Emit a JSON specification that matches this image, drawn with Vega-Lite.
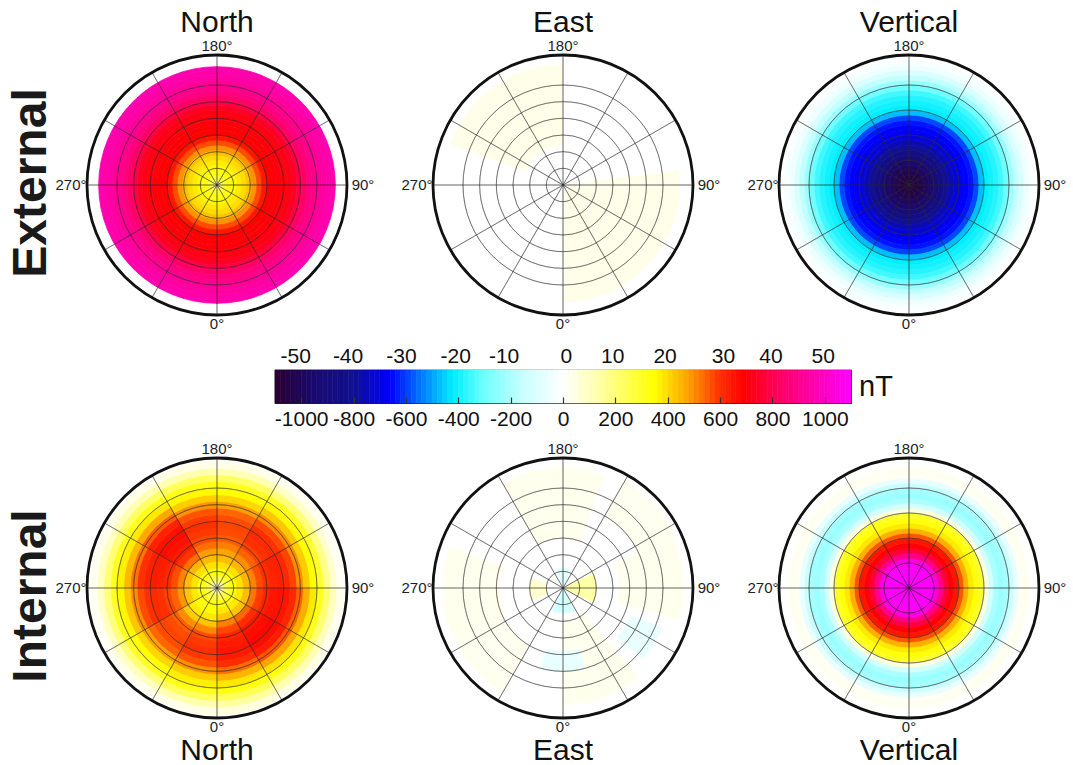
{
"$schema":"https://vega.github.io/schema/vega-lite/v6.json",
"background":"white",
"padding":{"left":7,"top":8,"right":10,"bottom":10},
"autosize":{"type":"pad"},
"bounds":"flush",
"spacing":45,
"center":true,
"resolve":{"scale":{"color":"independent","stroke":"independent"}},
"config":{"view":{"stroke":null},"font":"Liberation Sans","text":{"font":"Liberation Sans"},"axis":{"labelFont":"Liberation Sans","labelColor":"#111"}},
"datasets":{
"rowE":[{"t":"External"}],
"rowI":[{"t":"Internal"}],
"tN":[{"t":"North"}],"tE":[{"t":"East"}],"tV":[{"t":"Vertical"}],
"gridNE":[{"a0":0,"a1":360,"r0":5,"r1":5},{"a0":0,"a1":360,"r0":10,"r1":10},{"a0":0,"a1":360,"r0":15,"r1":15},{"a0":0,"a1":360,"r0":20,"r1":20},{"a0":0,"a1":360,"r0":25,"r1":25},{"a0":0,"a1":360,"r0":30,"r1":30},
{"a0":0,"a1":0,"r0":0,"r1":39},{"a0":30,"a1":30,"r0":0,"r1":39},{"a0":60,"a1":60,"r0":0,"r1":39},{"a0":90,"a1":90,"r0":0,"r1":39},{"a0":120,"a1":120,"r0":0,"r1":39},{"a0":150,"a1":150,"r0":0,"r1":39},
{"a0":180,"a1":180,"r0":0,"r1":39},{"a0":210,"a1":210,"r0":0,"r1":39},{"a0":240,"a1":240,"r0":0,"r1":39},{"a0":270,"a1":270,"r0":0,"r1":39},{"a0":300,"a1":300,"r0":0,"r1":39},{"a0":330,"a1":330,"r0":0,"r1":39}],
"gridV":[{"a0":0,"a1":360,"r0":7.5,"r1":7.5},{"a0":0,"a1":360,"r0":15,"r1":15},{"a0":0,"a1":360,"r0":22.5,"r1":22.5},{"a0":0,"a1":360,"r0":30,"r1":30},
{"a0":0,"a1":0,"r0":0,"r1":39},{"a0":30,"a1":30,"r0":0,"r1":39},{"a0":60,"a1":60,"r0":0,"r1":39},{"a0":90,"a1":90,"r0":0,"r1":39},{"a0":120,"a1":120,"r0":0,"r1":39},{"a0":150,"a1":150,"r0":0,"r1":39},
{"a0":180,"a1":180,"r0":0,"r1":39},{"a0":210,"a1":210,"r0":0,"r1":39},{"a0":240,"a1":240,"r0":0,"r1":39},{"a0":270,"a1":270,"r0":0,"r1":39},{"a0":300,"a1":300,"r0":0,"r1":39},{"a0":330,"a1":330,"r0":0,"r1":39}],
"outer":[{"a0":0,"a1":360,"r0":39,"r1":39}],
"labV":[{"a":0,"t":"0°"},{"a":180,"t":"180°"}],
"labH":[{"a":90,"t":"90°"},{"a":270,"t":"270°"}],
"EN":[
{"a0":0,"a1":360,"r0":0,"r1":1.5,"v":180},{"a0":0,"a1":360,"r0":1.5,"r1":3,"v":280},{"a0":0,"a1":360,"r0":3,"r1":4.5,"v":335},{"a0":0,"a1":360,"r0":4.5,"r1":6,"v":360},
{"a0":0,"a1":360,"r0":6,"r1":7.5,"v":378},{"a0":0,"a1":360,"r0":7.5,"r1":9,"v":398},{"a0":0,"a1":360,"r0":9,"r1":10.5,"v":435},{"a0":0,"a1":360,"r0":10.5,"r1":12,"v":495},
{"a0":0,"a1":360,"r0":12,"r1":13.5,"v":570},{"a0":0,"a1":360,"r0":13.5,"r1":15,"v":645},{"a0":0,"a1":360,"r0":15,"r1":16.5,"v":688},{"a0":0,"a1":360,"r0":16.5,"r1":18,"v":700},
{"a0":0,"a1":360,"r0":18,"r1":19.5,"v":705},{"a0":0,"a1":360,"r0":19.5,"r1":21,"v":710},{"a0":0,"a1":360,"r0":21,"r1":22.5,"v":718},{"a0":0,"a1":360,"r0":22.5,"r1":24,"v":742},
{"a0":0,"a1":360,"r0":24,"r1":25.5,"v":790},{"a0":0,"a1":360,"r0":25.5,"r1":27,"v":838},{"a0":0,"a1":360,"r0":27,"r1":28.5,"v":875},{"a0":0,"a1":360,"r0":28.5,"r1":30,"v":900},
{"a0":0,"a1":360,"r0":30,"r1":31.5,"v":920},{"a0":0,"a1":360,"r0":31.5,"r1":33,"v":938},{"a0":0,"a1":360,"r0":33,"r1":34.5,"v":952},{"a0":0,"a1":360,"r0":34.5,"r1":35.5,"v":962}],
"EV":[
{"a0":0,"a1":360,"r0":0,"r1":1.5,"v":-1060},{"a0":0,"a1":360,"r0":1.5,"r1":3,"v":-1050},{"a0":0,"a1":360,"r0":3,"r1":4.5,"v":-1030},{"a0":0,"a1":360,"r0":4.5,"r1":6,"v":-1000},
{"a0":0,"a1":360,"r0":6,"r1":7.5,"v":-960},{"a0":0,"a1":360,"r0":7.5,"r1":9,"v":-910},{"a0":0,"a1":360,"r0":9,"r1":10.5,"v":-860},{"a0":0,"a1":360,"r0":10.5,"r1":12,"v":-810},
{"a0":0,"a1":360,"r0":12,"r1":13.5,"v":-760},{"a0":0,"a1":360,"r0":13.5,"r1":15,"v":-710},{"a0":0,"a1":360,"r0":15,"r1":16.5,"v":-680},{"a0":0,"a1":360,"r0":16.5,"r1":18,"v":-660},
{"a0":0,"a1":360,"r0":18,"r1":19.5,"v":-640},{"a0":0,"a1":360,"r0":19.5,"r1":21,"v":-590},{"a0":0,"a1":360,"r0":21,"r1":22.5,"v":-470},{"a0":0,"a1":360,"r0":22.5,"r1":24,"v":-420},
{"a0":0,"a1":360,"r0":24,"r1":25.5,"v":-400},{"a0":0,"a1":360,"r0":25.5,"r1":27,"v":-380},{"a0":0,"a1":360,"r0":27,"r1":28.5,"v":-350},{"a0":0,"a1":360,"r0":28.5,"r1":30,"v":-300},
{"a0":0,"a1":360,"r0":30,"r1":31.5,"v":-230},{"a0":0,"a1":360,"r0":31.5,"r1":33,"v":-160},{"a0":0,"a1":360,"r0":33,"r1":34.5,"v":-100},{"a0":0,"a1":360,"r0":34.5,"r1":36,"v":-50},
{"a0":0,"a1":360,"r0":36,"r1":37.5,"v":-20}],
"IV":[
{"a0":0,"a1":360,"r0":0,"r1":6,"v":1100},{"a0":0,"a1":360,"r0":6,"r1":7.5,"v":1090},{"a0":0,"a1":360,"r0":7.5,"r1":9,"v":1050},{"a0":0,"a1":360,"r0":9,"r1":10.5,"v":900},
{"a0":0,"a1":360,"r0":10.5,"r1":12,"v":780},{"a0":0,"a1":360,"r0":12,"r1":13.5,"v":700},{"a0":0,"a1":360,"r0":13.5,"r1":15,"v":650},{"a0":0,"a1":360,"r0":15,"r1":16.5,"v":560},
{"a0":0,"a1":360,"r0":16.5,"r1":18,"v":460},{"a0":0,"a1":360,"r0":18,"r1":19.5,"v":380},{"a0":0,"a1":360,"r0":19.5,"r1":21,"v":340},{"a0":0,"a1":360,"r0":21,"r1":22.5,"v":300},
{"a0":0,"a1":360,"r0":22.5,"r1":24,"v":60},{"a0":0,"a1":360,"r0":24,"r1":25.5,"v":-120},{"a0":0,"a1":360,"r0":25.5,"r1":27,"v":-200},{"a0":0,"a1":360,"r0":27,"r1":28.5,"v":-230},
{"a0":0,"a1":360,"r0":28.5,"r1":30,"v":-210},{"a0":0,"a1":360,"r0":30,"r1":31.5,"v":-150},{"a0":0,"a1":360,"r0":31.5,"r1":33,"v":-60},{"a0":0,"a1":360,"r0":33,"r1":34.5,"v":20},
{"a0":0,"a1":360,"r0":34.5,"r1":36,"v":25},{"a0":0,"a1":360,"r0":36,"r1":37.5,"v":5}],
"EE":[{"a0":180,"a1":250,"r0":12,"r1":36,"v":1.8},{"a0":0,"a1":97,"r0":2,"r1":35,"v":1.8}],
"IE":[
{"a0":160,"a1":210,"r0":15,"r1":36,"v":1.5},{"a0":115,"a1":150,"r0":25,"r1":37,"v":1.3},{"a0":75,"a1":115,"r0":17,"r1":36,"v":1.5},{"a0":250,"a1":295,"r0":19,"r1":36,"v":1.5},
{"a0":295,"a1":330,"r0":20,"r1":36,"v":1.2},{"a0":0,"a1":40,"r0":10,"r1":35,"v":1.5},{"a0":345,"a1":360,"r0":19,"r1":25,"v":-3},{"a0":0,"a1":15,"r0":19,"r1":25,"v":-3},
{"a0":48,"a1":68,"r0":22,"r1":32,"v":-3},{"a0":65,"a1":115,"r0":1,"r1":10,"v":7},{"a0":255,"a1":290,"r0":5,"r1":10,"v":4},{"a0":160,"a1":200,"r0":1,"r1":6,"v":-4},
{"a0":335,"a1":360,"r0":0,"r1":7.5,"v":-6},{"a0":0,"a1":25,"r0":0,"r1":7.5,"v":-6}],
"IN":[
{"a0":0,"a1":360,"r0":0,"r1":2,"v":120},{"a0":0,"a1":360,"r0":2,"r1":4,"v":260},{"a0":0,"a1":360,"r0":4,"r1":6,"v":340},
{"a0":0,"a1":30,"r0":6,"r1":8,"v":380},{"a0":0,"a1":30,"r0":8,"r1":10,"v":430},{"a0":0,"a1":30,"r0":10,"r1":12,"v":515},{"a0":0,"a1":30,"r0":12,"r1":14,"v":577},{"a0":0,"a1":30,"r0":14,"r1":16,"v":618},{"a0":0,"a1":30,"r0":16,"r1":18,"v":639},{"a0":0,"a1":30,"r0":18,"r1":20,"v":650},{"a0":0,"a1":30,"r0":20,"r1":22,"v":639},{"a0":0,"a1":30,"r0":22,"r1":24,"v":608},{"a0":0,"a1":30,"r0":24,"r1":26,"v":536},{"a0":0,"a1":30,"r0":26,"r1":28,"v":453},{"a0":0,"a1":30,"r0":28,"r1":30,"v":381},{"a0":0,"a1":30,"r0":30,"r1":32,"v":330},{"a0":0,"a1":30,"r0":32,"r1":34,"v":240},{"a0":0,"a1":30,"r0":34,"r1":36,"v":150},{"a0":0,"a1":30,"r0":36,"r1":38,"v":60},
{"a0":30,"a1":60,"r0":6,"r1":8,"v":380},{"a0":30,"a1":60,"r0":8,"r1":10,"v":430},{"a0":30,"a1":60,"r0":10,"r1":12,"v":540},{"a0":30,"a1":60,"r0":12,"r1":14,"v":605},{"a0":30,"a1":60,"r0":14,"r1":16,"v":648},{"a0":30,"a1":60,"r0":16,"r1":18,"v":670},{"a0":30,"a1":60,"r0":18,"r1":20,"v":680},{"a0":30,"a1":60,"r0":20,"r1":22,"v":670},{"a0":30,"a1":60,"r0":22,"r1":24,"v":637},{"a0":30,"a1":60,"r0":24,"r1":26,"v":562},{"a0":30,"a1":60,"r0":26,"r1":28,"v":475},{"a0":30,"a1":60,"r0":28,"r1":30,"v":390},{"a0":30,"a1":60,"r0":30,"r1":32,"v":330},{"a0":30,"a1":60,"r0":32,"r1":34,"v":230},{"a0":30,"a1":60,"r0":34,"r1":36,"v":130},{"a0":30,"a1":60,"r0":36,"r1":38,"v":40},
{"a0":60,"a1":90,"r0":6,"r1":8,"v":380},{"a0":60,"a1":90,"r0":8,"r1":10,"v":440},{"a0":60,"a1":90,"r0":10,"r1":12,"v":524},{"a0":60,"a1":90,"r0":12,"r1":14,"v":587},{"a0":60,"a1":90,"r0":14,"r1":16,"v":629},{"a0":60,"a1":90,"r0":16,"r1":18,"v":650},{"a0":60,"a1":90,"r0":18,"r1":20,"v":660},{"a0":60,"a1":90,"r0":20,"r1":22,"v":650},{"a0":60,"a1":90,"r0":22,"r1":24,"v":618},{"a0":60,"a1":90,"r0":24,"r1":26,"v":545},{"a0":60,"a1":90,"r0":26,"r1":28,"v":461},{"a0":60,"a1":90,"r0":28,"r1":30,"v":380},{"a0":60,"a1":90,"r0":30,"r1":32,"v":320},{"a0":60,"a1":90,"r0":32,"r1":34,"v":210},{"a0":60,"a1":90,"r0":34,"r1":36,"v":110},{"a0":60,"a1":90,"r0":36,"r1":38,"v":30},
{"a0":90,"a1":120,"r0":6,"r1":8,"v":390},{"a0":90,"a1":120,"r0":8,"r1":10,"v":450},{"a0":90,"a1":120,"r0":10,"r1":12,"v":510},{"a0":90,"a1":120,"r0":12,"r1":14,"v":570},{"a0":90,"a1":120,"r0":14,"r1":16,"v":605},{"a0":90,"a1":120,"r0":16,"r1":18,"v":625},{"a0":90,"a1":120,"r0":18,"r1":20,"v":630},{"a0":90,"a1":120,"r0":20,"r1":22,"v":615},{"a0":90,"a1":120,"r0":22,"r1":24,"v":580},{"a0":90,"a1":120,"r0":24,"r1":26,"v":500},{"a0":90,"a1":120,"r0":26,"r1":28,"v":420},{"a0":90,"a1":120,"r0":28,"r1":30,"v":350},{"a0":90,"a1":120,"r0":30,"r1":32,"v":290},{"a0":90,"a1":120,"r0":32,"r1":34,"v":180},{"a0":90,"a1":120,"r0":34,"r1":36,"v":80},{"a0":90,"a1":120,"r0":36,"r1":38,"v":20},
{"a0":120,"a1":150,"r0":6,"r1":8,"v":390},{"a0":120,"a1":150,"r0":8,"r1":10,"v":450},{"a0":120,"a1":150,"r0":10,"r1":12,"v":500},{"a0":120,"a1":150,"r0":12,"r1":14,"v":545},{"a0":120,"a1":150,"r0":14,"r1":16,"v":580},{"a0":120,"a1":150,"r0":16,"r1":18,"v":600},{"a0":120,"a1":150,"r0":18,"r1":20,"v":610},{"a0":120,"a1":150,"r0":20,"r1":22,"v":600},{"a0":120,"a1":150,"r0":22,"r1":24,"v":571},{"a0":120,"a1":150,"r0":24,"r1":26,"v":503},{"a0":120,"a1":150,"r0":26,"r1":28,"v":426},{"a0":120,"a1":150,"r0":28,"r1":30,"v":360},{"a0":120,"a1":150,"r0":30,"r1":32,"v":310},{"a0":120,"a1":150,"r0":32,"r1":34,"v":200},{"a0":120,"a1":150,"r0":34,"r1":36,"v":100},{"a0":120,"a1":150,"r0":36,"r1":38,"v":30},
{"a0":150,"a1":180,"r0":6,"r1":8,"v":390},{"a0":150,"a1":180,"r0":8,"r1":10,"v":440},{"a0":150,"a1":180,"r0":10,"r1":12,"v":470},{"a0":150,"a1":180,"r0":12,"r1":14,"v":515},{"a0":150,"a1":180,"r0":14,"r1":16,"v":552},{"a0":150,"a1":180,"r0":16,"r1":18,"v":570},{"a0":150,"a1":180,"r0":18,"r1":20,"v":580},{"a0":150,"a1":180,"r0":20,"r1":22,"v":570},{"a0":150,"a1":180,"r0":22,"r1":24,"v":543},{"a0":150,"a1":180,"r0":24,"r1":26,"v":478},{"a0":150,"a1":180,"r0":26,"r1":28,"v":405},{"a0":150,"a1":180,"r0":28,"r1":30,"v":350},{"a0":150,"a1":180,"r0":30,"r1":32,"v":310},{"a0":150,"a1":180,"r0":32,"r1":34,"v":220},{"a0":150,"a1":180,"r0":34,"r1":36,"v":120},{"a0":150,"a1":180,"r0":36,"r1":38,"v":40},
{"a0":180,"a1":210,"r0":6,"r1":8,"v":390},{"a0":180,"a1":210,"r0":8,"r1":10,"v":440},{"a0":180,"a1":210,"r0":10,"r1":12,"v":480},{"a0":180,"a1":210,"r0":12,"r1":14,"v":533},{"a0":180,"a1":210,"r0":14,"r1":16,"v":571},{"a0":180,"a1":210,"r0":16,"r1":18,"v":590},{"a0":180,"a1":210,"r0":18,"r1":20,"v":600},{"a0":180,"a1":210,"r0":20,"r1":22,"v":590},{"a0":180,"a1":210,"r0":22,"r1":24,"v":562},{"a0":180,"a1":210,"r0":24,"r1":26,"v":495},{"a0":180,"a1":210,"r0":26,"r1":28,"v":419},{"a0":180,"a1":210,"r0":28,"r1":30,"v":360},{"a0":180,"a1":210,"r0":30,"r1":32,"v":320},{"a0":180,"a1":210,"r0":32,"r1":34,"v":230},{"a0":180,"a1":210,"r0":34,"r1":36,"v":130},{"a0":180,"a1":210,"r0":36,"r1":38,"v":40},
{"a0":210,"a1":240,"r0":6,"r1":8,"v":390},{"a0":210,"a1":240,"r0":8,"r1":10,"v":450},{"a0":210,"a1":240,"r0":10,"r1":12,"v":530},{"a0":210,"a1":240,"r0":12,"r1":14,"v":595},{"a0":210,"a1":240,"r0":14,"r1":16,"v":638},{"a0":210,"a1":240,"r0":16,"r1":18,"v":659},{"a0":210,"a1":240,"r0":18,"r1":20,"v":670},{"a0":210,"a1":240,"r0":20,"r1":22,"v":659},{"a0":210,"a1":240,"r0":22,"r1":24,"v":627},{"a0":210,"a1":240,"r0":24,"r1":26,"v":553},{"a0":210,"a1":240,"r0":26,"r1":28,"v":468},{"a0":210,"a1":240,"r0":28,"r1":30,"v":380},{"a0":210,"a1":240,"r0":30,"r1":32,"v":320},{"a0":210,"a1":240,"r0":32,"r1":34,"v":220},{"a0":210,"a1":240,"r0":34,"r1":36,"v":120},{"a0":210,"a1":240,"r0":36,"r1":38,"v":40},
{"a0":240,"a1":270,"r0":6,"r1":8,"v":390},{"a0":240,"a1":270,"r0":8,"r1":10,"v":440},{"a0":240,"a1":270,"r0":10,"r1":12,"v":510},{"a0":240,"a1":270,"r0":12,"r1":14,"v":569},{"a0":240,"a1":270,"r0":14,"r1":16,"v":610},{"a0":240,"a1":270,"r0":16,"r1":18,"v":630},{"a0":240,"a1":270,"r0":18,"r1":20,"v":640},{"a0":240,"a1":270,"r0":20,"r1":22,"v":630},{"a0":240,"a1":270,"r0":22,"r1":24,"v":599},{"a0":240,"a1":270,"r0":24,"r1":26,"v":528},{"a0":240,"a1":270,"r0":26,"r1":28,"v":447},{"a0":240,"a1":270,"r0":28,"r1":30,"v":370},{"a0":240,"a1":270,"r0":30,"r1":32,"v":310},{"a0":240,"a1":270,"r0":32,"r1":34,"v":200},{"a0":240,"a1":270,"r0":34,"r1":36,"v":100},{"a0":240,"a1":270,"r0":36,"r1":38,"v":30},
{"a0":270,"a1":300,"r0":6,"r1":8,"v":380},{"a0":270,"a1":300,"r0":8,"r1":10,"v":430},{"a0":270,"a1":300,"r0":10,"r1":12,"v":490},{"a0":270,"a1":300,"r0":12,"r1":14,"v":545},{"a0":270,"a1":300,"r0":14,"r1":16,"v":580},{"a0":270,"a1":300,"r0":16,"r1":18,"v":600},{"a0":270,"a1":300,"r0":18,"r1":20,"v":610},{"a0":270,"a1":300,"r0":20,"r1":22,"v":600},{"a0":270,"a1":300,"r0":22,"r1":24,"v":571},{"a0":270,"a1":300,"r0":24,"r1":26,"v":503},{"a0":270,"a1":300,"r0":26,"r1":28,"v":426},{"a0":270,"a1":300,"r0":28,"r1":30,"v":360},{"a0":270,"a1":300,"r0":30,"r1":32,"v":300},{"a0":270,"a1":300,"r0":32,"r1":34,"v":190},{"a0":270,"a1":300,"r0":34,"r1":36,"v":90},{"a0":270,"a1":300,"r0":36,"r1":38,"v":20},
{"a0":300,"a1":330,"r0":6,"r1":8,"v":350},{"a0":300,"a1":330,"r0":8,"r1":10,"v":380},{"a0":300,"a1":330,"r0":10,"r1":12,"v":420},{"a0":300,"a1":330,"r0":12,"r1":14,"v":500},{"a0":300,"a1":330,"r0":14,"r1":16,"v":552},{"a0":300,"a1":330,"r0":16,"r1":18,"v":570},{"a0":300,"a1":330,"r0":18,"r1":20,"v":580},{"a0":300,"a1":330,"r0":20,"r1":22,"v":570},{"a0":300,"a1":330,"r0":22,"r1":24,"v":543},{"a0":300,"a1":330,"r0":24,"r1":26,"v":478},{"a0":300,"a1":330,"r0":26,"r1":28,"v":405},{"a0":300,"a1":330,"r0":28,"r1":30,"v":350},{"a0":300,"a1":330,"r0":30,"r1":32,"v":300},{"a0":300,"a1":330,"r0":32,"r1":34,"v":200},{"a0":300,"a1":330,"r0":34,"r1":36,"v":100},{"a0":300,"a1":330,"r0":36,"r1":38,"v":30},
{"a0":330,"a1":360,"r0":6,"r1":8,"v":350},{"a0":330,"a1":360,"r0":8,"r1":10,"v":380},{"a0":330,"a1":360,"r0":10,"r1":12,"v":430},{"a0":330,"a1":360,"r0":12,"r1":14,"v":510},{"a0":330,"a1":360,"r0":14,"r1":16,"v":571},{"a0":330,"a1":360,"r0":16,"r1":18,"v":590},{"a0":330,"a1":360,"r0":18,"r1":20,"v":600},{"a0":330,"a1":360,"r0":20,"r1":22,"v":590},{"a0":330,"a1":360,"r0":22,"r1":24,"v":562},{"a0":330,"a1":360,"r0":24,"r1":26,"v":495},{"a0":330,"a1":360,"r0":26,"r1":28,"v":419},{"a0":330,"a1":360,"r0":28,"r1":30,"v":370},{"a0":330,"a1":360,"r0":30,"r1":32,"v":320},{"a0":330,"a1":360,"r0":32,"r1":34,"v":230},{"a0":330,"a1":360,"r0":34,"r1":36,"v":130},{"a0":330,"a1":360,"r0":36,"r1":38,"v":40}],
"cbar":[
{"a":-1100,"b":-1080,"m":-1090},{"a":-1080,"b":-1060,"m":-1070},{"a":-1060,"b":-1040,"m":-1050},{"a":-1040,"b":-1020,"m":-1030},{"a":-1020,"b":-1000,"m":-1010},
{"a":-1000,"b":-980,"m":-990},{"a":-980,"b":-960,"m":-970},{"a":-960,"b":-940,"m":-950},{"a":-940,"b":-920,"m":-930},{"a":-920,"b":-900,"m":-910},
{"a":-900,"b":-880,"m":-890},{"a":-880,"b":-860,"m":-870},{"a":-860,"b":-840,"m":-850},{"a":-840,"b":-820,"m":-830},{"a":-820,"b":-800,"m":-810},
{"a":-800,"b":-780,"m":-790},{"a":-780,"b":-760,"m":-770},{"a":-760,"b":-740,"m":-750},{"a":-740,"b":-720,"m":-730},{"a":-720,"b":-700,"m":-710},
{"a":-700,"b":-680,"m":-690},{"a":-680,"b":-660,"m":-670},{"a":-660,"b":-640,"m":-650},{"a":-640,"b":-620,"m":-630},{"a":-620,"b":-600,"m":-610},
{"a":-600,"b":-580,"m":-590},{"a":-580,"b":-560,"m":-570},{"a":-560,"b":-540,"m":-550},{"a":-540,"b":-520,"m":-530},{"a":-520,"b":-500,"m":-510},
{"a":-500,"b":-480,"m":-490},{"a":-480,"b":-460,"m":-470},{"a":-460,"b":-440,"m":-450},{"a":-440,"b":-420,"m":-430},{"a":-420,"b":-400,"m":-410},
{"a":-400,"b":-380,"m":-390},{"a":-380,"b":-360,"m":-370},{"a":-360,"b":-340,"m":-350},{"a":-340,"b":-320,"m":-330},{"a":-320,"b":-300,"m":-310},
{"a":-300,"b":-280,"m":-290},{"a":-280,"b":-260,"m":-270},{"a":-260,"b":-240,"m":-250},{"a":-240,"b":-220,"m":-230},{"a":-220,"b":-200,"m":-210},
{"a":-200,"b":-180,"m":-190},{"a":-180,"b":-160,"m":-170},{"a":-160,"b":-140,"m":-150},{"a":-140,"b":-120,"m":-130},{"a":-120,"b":-100,"m":-110},
{"a":-100,"b":-80,"m":-90},{"a":-80,"b":-60,"m":-70},{"a":-60,"b":-40,"m":-50},{"a":-40,"b":-20,"m":-30},{"a":-20,"b":0,"m":-10},
{"a":0,"b":20,"m":10},{"a":20,"b":40,"m":30},{"a":40,"b":60,"m":50},{"a":60,"b":80,"m":70},{"a":80,"b":100,"m":90},
{"a":100,"b":120,"m":110},{"a":120,"b":140,"m":130},{"a":140,"b":160,"m":150},{"a":160,"b":180,"m":170},{"a":180,"b":200,"m":190},
{"a":200,"b":220,"m":210},{"a":220,"b":240,"m":230},{"a":240,"b":260,"m":250},{"a":260,"b":280,"m":270},{"a":280,"b":300,"m":290},
{"a":300,"b":320,"m":310},{"a":320,"b":340,"m":330},{"a":340,"b":360,"m":350},{"a":360,"b":380,"m":370},{"a":380,"b":400,"m":390},
{"a":400,"b":420,"m":410},{"a":420,"b":440,"m":430},{"a":440,"b":460,"m":450},{"a":460,"b":480,"m":470},{"a":480,"b":500,"m":490},
{"a":500,"b":520,"m":510},{"a":520,"b":540,"m":530},{"a":540,"b":560,"m":550},{"a":560,"b":580,"m":570},{"a":580,"b":600,"m":590},
{"a":600,"b":620,"m":610},{"a":620,"b":640,"m":630},{"a":640,"b":660,"m":650},{"a":660,"b":680,"m":670},{"a":680,"b":700,"m":690},
{"a":700,"b":720,"m":710},{"a":720,"b":740,"m":730},{"a":740,"b":760,"m":750},{"a":760,"b":780,"m":770},{"a":780,"b":800,"m":790},
{"a":800,"b":820,"m":810},{"a":820,"b":840,"m":830},{"a":840,"b":860,"m":850},{"a":860,"b":880,"m":870},{"a":880,"b":900,"m":890},
{"a":900,"b":920,"m":910},{"a":920,"b":940,"m":930},{"a":940,"b":960,"m":950},{"a":960,"b":980,"m":970},{"a":980,"b":1000,"m":990},
{"a":1000,"b":1020,"m":1010},{"a":1020,"b":1040,"m":1030},{"a":1040,"b":1060,"m":1050},{"a":1060,"b":1080,"m":1070},{"a":1080,"b":1100,"m":1090}],
"toplab":[{"p":-1021,"t":"-50"},{"p":-821,"t":"-40"},{"p":-617,"t":"-30"},{"p":-410,"t":"-20"},{"p":-225,"t":"-10"},{"p":13,"t":"0"},{"p":190,"t":"10"},{"p":390,"t":"20"},{"p":613,"t":"30"},{"p":794,"t":"40"},{"p":994,"t":"50"}],
"unit":[{"u":"nT"}]
},
"vconcat":[
{"width":992,"height":280,
 "resolve":{"scale":{"color":"independent","stroke":"independent"}},
 "layer":[
  {"data":{"name":"EN"},"mark":{"type":"arc","strokeWidth":0.8,"x":150,"y":140},"encoding":{"theta":{"field":"a0","type":"quantitative","scale":{"type":"linear","domain":[0,360],"range":[3.14159265,-3.14159265],"zero":false,"nice":false}},"theta2":{"field":"a1"},"radius":{"field":"r1","type":"quantitative","scale":{"type":"linear","domain":[0,39],"range":[0,130],"zero":true,"nice":false}},"radius2":{"field":"r0"},
   "color":{"field":"v","type":"quantitative","legend":null,"scale":{"type":"linear","nice":false,"zero":false,"clamp":true,"interpolate":"rgb","domain":[-1100,-950,-800,-660,-550,-420,-300,-150,0,130,350,480,600,690,850,1100],"range":["#2b0030","#1a0a70","#101090","#0000ff","#0070ff","#00eeff","#70ffff","#c8ffff","#ffffff","#ffffb0","#ffff00","#ffa000","#ff3000","#ff0000","#ff0070","#ff00ff"]}},
   "stroke":{"field":"v","type":"quantitative","legend":null,"scale":{"type":"linear","nice":false,"zero":false,"clamp":true,"interpolate":"rgb","domain":[-1100,-950,-800,-660,-550,-420,-300,-150,0,130,350,480,600,690,850,1100],"range":["#2b0030","#1a0a70","#101090","#0000ff","#0070ff","#00eeff","#70ffff","#c8ffff","#ffffff","#ffffb0","#ffff00","#ffa000","#ff3000","#ff0000","#ff0070","#ff00ff"]}}}},
  {"data":{"name":"EE"},"mark":{"type":"arc","strokeWidth":0.8,"x":496,"y":140},"encoding":{"theta":{"field":"a0","type":"quantitative","scale":{"type":"linear","domain":[0,360],"range":[3.14159265,-3.14159265],"zero":false,"nice":false}},"theta2":{"field":"a1"},"radius":{"field":"r1","type":"quantitative","scale":{"type":"linear","domain":[0,39],"range":[0,130],"zero":true,"nice":false}},"radius2":{"field":"r0"},
   "color":{"field":"v","type":"quantitative","legend":null,"scale":{"type":"linear","nice":false,"zero":false,"clamp":true,"interpolate":"rgb","domain":[-55,-47.5,-40,-33,-27.5,-21,-15,-7.5,0,6.5,17.5,24,30,34.5,42.5,55],"range":["#2b0030","#1a0a70","#101090","#0000ff","#0070ff","#00eeff","#70ffff","#c8ffff","#ffffff","#ffffb0","#ffff00","#ffa000","#ff3000","#ff0000","#ff0070","#ff00ff"]}},
   "stroke":{"field":"v","type":"quantitative","legend":null,"scale":{"type":"linear","nice":false,"zero":false,"clamp":true,"interpolate":"rgb","domain":[-55,-47.5,-40,-33,-27.5,-21,-15,-7.5,0,6.5,17.5,24,30,34.5,42.5,55],"range":["#2b0030","#1a0a70","#101090","#0000ff","#0070ff","#00eeff","#70ffff","#c8ffff","#ffffff","#ffffb0","#ffff00","#ffa000","#ff3000","#ff0000","#ff0070","#ff00ff"]}}}},
  {"data":{"name":"EV"},"mark":{"type":"arc","strokeWidth":0.8,"x":842,"y":140},"encoding":{"theta":{"field":"a0","type":"quantitative","scale":{"type":"linear","domain":[0,360],"range":[3.14159265,-3.14159265],"zero":false,"nice":false}},"theta2":{"field":"a1"},"radius":{"field":"r1","type":"quantitative","scale":{"type":"linear","domain":[0,39],"range":[0,130],"zero":true,"nice":false}},"radius2":{"field":"r0"},
   "color":{"field":"v","type":"quantitative","legend":null,"scale":{"type":"linear","nice":false,"zero":false,"clamp":true,"interpolate":"rgb","domain":[-1100,-950,-800,-660,-550,-420,-300,-150,0,130,350,480,600,690,850,1100],"range":["#2b0030","#1a0a70","#101090","#0000ff","#0070ff","#00eeff","#70ffff","#c8ffff","#ffffff","#ffffb0","#ffff00","#ffa000","#ff3000","#ff0000","#ff0070","#ff00ff"]}},
   "stroke":{"field":"v","type":"quantitative","legend":null,"scale":{"type":"linear","nice":false,"zero":false,"clamp":true,"interpolate":"rgb","domain":[-1100,-950,-800,-660,-550,-420,-300,-150,0,130,350,480,600,690,850,1100],"range":["#2b0030","#1a0a70","#101090","#0000ff","#0070ff","#00eeff","#70ffff","#c8ffff","#ffffff","#ffffb0","#ffff00","#ffa000","#ff3000","#ff0000","#ff0070","#ff00ff"]}}}},
  {"data":{"name":"gridNE"},"mark":{"type":"arc","x":150,"y":140,"filled":false,"stroke":"#2a2a2a","strokeOpacity":0.45,"strokeWidth":0.9},"encoding":{"theta":{"field":"a0","type":"quantitative","scale":{"type":"linear","domain":[0,360],"range":[3.14159265,-3.14159265],"zero":false,"nice":false}},"theta2":{"field":"a1"},"radius":{"field":"r1","type":"quantitative","scale":{"type":"linear","domain":[0,39],"range":[0,130],"zero":true,"nice":false}},"radius2":{"field":"r0"}}},
  {"data":{"name":"gridNE"},"mark":{"type":"arc","x":496,"y":140,"filled":false,"stroke":"#2a2a2a","strokeOpacity":0.45,"strokeWidth":0.9},"encoding":{"theta":{"field":"a0","type":"quantitative","scale":{"type":"linear","domain":[0,360],"range":[3.14159265,-3.14159265],"zero":false,"nice":false}},"theta2":{"field":"a1"},"radius":{"field":"r1","type":"quantitative","scale":{"type":"linear","domain":[0,39],"range":[0,130],"zero":true,"nice":false}},"radius2":{"field":"r0"}}},
  {"data":{"name":"gridV"},"mark":{"type":"arc","x":842,"y":140,"filled":false,"stroke":"#2a2a2a","strokeOpacity":0.45,"strokeWidth":0.9},"encoding":{"theta":{"field":"a0","type":"quantitative","scale":{"type":"linear","domain":[0,360],"range":[3.14159265,-3.14159265],"zero":false,"nice":false}},"theta2":{"field":"a1"},"radius":{"field":"r1","type":"quantitative","scale":{"type":"linear","domain":[0,39],"range":[0,130],"zero":true,"nice":false}},"radius2":{"field":"r0"}}},
  {"data":{"name":"outer"},"mark":{"type":"arc","x":150,"y":140,"filled":false,"stroke":"#111","strokeWidth":2.8},"encoding":{"theta":{"field":"a0","type":"quantitative","scale":{"type":"linear","domain":[0,360],"range":[3.14159265,-3.14159265],"zero":false,"nice":false}},"theta2":{"field":"a1"},"radius":{"field":"r1","type":"quantitative","scale":{"type":"linear","domain":[0,39],"range":[0,130],"zero":true,"nice":false}},"radius2":{"field":"r0"}}},
  {"data":{"name":"outer"},"mark":{"type":"arc","x":496,"y":140,"filled":false,"stroke":"#111","strokeWidth":2.8},"encoding":{"theta":{"field":"a0","type":"quantitative","scale":{"type":"linear","domain":[0,360],"range":[3.14159265,-3.14159265],"zero":false,"nice":false}},"theta2":{"field":"a1"},"radius":{"field":"r1","type":"quantitative","scale":{"type":"linear","domain":[0,39],"range":[0,130],"zero":true,"nice":false}},"radius2":{"field":"r0"}}},
  {"data":{"name":"outer"},"mark":{"type":"arc","x":842,"y":140,"filled":false,"stroke":"#111","strokeWidth":2.8},"encoding":{"theta":{"field":"a0","type":"quantitative","scale":{"type":"linear","domain":[0,360],"range":[3.14159265,-3.14159265],"zero":false,"nice":false}},"theta2":{"field":"a1"},"radius":{"field":"r1","type":"quantitative","scale":{"type":"linear","domain":[0,39],"range":[0,130],"zero":true,"nice":false}},"radius2":{"field":"r0"}}},
  {"data":{"name":"labV"},"mark":{"type":"text","x":150,"y":140,"radius":139,"fontSize":15,"color":"#222"},"encoding":{"theta":{"field":"a","type":"quantitative","scale":{"type":"linear","domain":[0,360],"range":[3.14159265,-3.14159265],"zero":false,"nice":false}},"text":{"field":"t","type":"nominal"}}},
  {"data":{"name":"labH"},"mark":{"type":"text","x":150,"y":140,"radius":146,"fontSize":15,"color":"#222"},"encoding":{"theta":{"field":"a","type":"quantitative","scale":{"type":"linear","domain":[0,360],"range":[3.14159265,-3.14159265],"zero":false,"nice":false}},"text":{"field":"t","type":"nominal"}}},
  {"data":{"name":"labV"},"mark":{"type":"text","x":496,"y":140,"radius":139,"fontSize":15,"color":"#222"},"encoding":{"theta":{"field":"a","type":"quantitative","scale":{"type":"linear","domain":[0,360],"range":[3.14159265,-3.14159265],"zero":false,"nice":false}},"text":{"field":"t","type":"nominal"}}},
  {"data":{"name":"labH"},"mark":{"type":"text","x":496,"y":140,"radius":146,"fontSize":15,"color":"#222"},"encoding":{"theta":{"field":"a","type":"quantitative","scale":{"type":"linear","domain":[0,360],"range":[3.14159265,-3.14159265],"zero":false,"nice":false}},"text":{"field":"t","type":"nominal"}}},
  {"data":{"name":"labV"},"mark":{"type":"text","x":842,"y":140,"radius":139,"fontSize":15,"color":"#222"},"encoding":{"theta":{"field":"a","type":"quantitative","scale":{"type":"linear","domain":[0,360],"range":[3.14159265,-3.14159265],"zero":false,"nice":false}},"text":{"field":"t","type":"nominal"}}},
  {"data":{"name":"labH"},"mark":{"type":"text","x":842,"y":140,"radius":146,"fontSize":15,"color":"#222"},"encoding":{"theta":{"field":"a","type":"quantitative","scale":{"type":"linear","domain":[0,360],"range":[3.14159265,-3.14159265],"zero":false,"nice":false}},"text":{"field":"t","type":"nominal"}}},
  {"data":{"name":"tN"},"mark":{"type":"text","x":150,"y":-13,"fontSize":30,"baseline":"alphabetic","align":"center","color":"#111"},"encoding":{"text":{"field":"t","type":"nominal"}}},
  {"data":{"name":"tE"},"mark":{"type":"text","x":496,"y":-13,"fontSize":30,"baseline":"alphabetic","align":"center","color":"#111"},"encoding":{"text":{"field":"t","type":"nominal"}}},
  {"data":{"name":"tV"},"mark":{"type":"text","x":842,"y":-13,"fontSize":30,"baseline":"alphabetic","align":"center","color":"#111"},"encoding":{"text":{"field":"t","type":"nominal"}}},
  {"data":{"name":"rowE"},"mark":{"type":"text","x":-21,"y":138,"angle":270,"align":"center","baseline":"alphabetic","fontSize":48,"fontWeight":"bold","color":"#1a1a1a"},"encoding":{"text":{"field":"t","type":"nominal"}}}
 ]},
{"width":576,"height":33,"view":{"stroke":"#222","strokeWidth":1.2},
 "layer":[
  {"data":{"name":"cbar"},"mark":{"type":"rect","strokeWidth":0.6},
   "encoding":{"x":{"field":"a","type":"quantitative","scale":{"domain":[-1100,1100],"nice":false,"zero":false},"axis":{"orient":"bottom","zindex":2,"values":[-1000,-800,-600,-400,-200,0,200,400,600,800,1000],"labelExpr":"'' + datum.value","title":null,"domain":false,"grid":false,"ticks":true,"tickSize":-6,"tickWidth":1.2,"tickColor":"#333","labelFontSize":21,"labelPadding":11,"labelColor":"#111"}},
    "x2":{"field":"b"},
    "color":{"field":"m","type":"quantitative","legend":null,"scale":{"type":"linear","nice":false,"zero":false,"clamp":true,"interpolate":"rgb","domain":[-1100,-950,-800,-660,-550,-420,-300,-150,0,130,350,480,600,690,850,1100],"range":["#2b0030","#1a0a70","#101090","#0000ff","#0070ff","#00eeff","#70ffff","#c8ffff","#ffffff","#ffffb0","#ffff00","#ffa000","#ff3000","#ff0000","#ff0070","#ff00ff"]}},
    "stroke":{"field":"m","type":"quantitative","legend":null,"scale":{"type":"linear","nice":false,"zero":false,"clamp":true,"interpolate":"rgb","domain":[-1100,-950,-800,-660,-550,-420,-300,-150,0,130,350,480,600,690,850,1100],"range":["#2b0030","#1a0a70","#101090","#0000ff","#0070ff","#00eeff","#70ffff","#c8ffff","#ffffff","#ffffb0","#ffff00","#ffa000","#ff3000","#ff0000","#ff0070","#ff00ff"]}}}},
  {"data":{"name":"toplab"},"mark":{"type":"text","fontSize":21,"color":"#111","baseline":"alphabetic","dy":-23.5},
   "encoding":{"x":{"field":"p","type":"quantitative"},"text":{"field":"t","type":"nominal"}}},
  {"data":{"name":"unit"},"mark":{"type":"text","fontSize":29,"color":"#111","align":"left","baseline":"middle","x":584,"y":16.5},
   "encoding":{"text":{"field":"u","type":"nominal"}}}
 ]},
{"width":992,"height":280,
 "resolve":{"scale":{"color":"independent","stroke":"independent"}},
 "layer":[
  {"data":{"name":"IN"},"mark":{"type":"arc","strokeWidth":0.8,"x":150,"y":140},"encoding":{"theta":{"field":"a0","type":"quantitative","scale":{"type":"linear","domain":[0,360],"range":[3.14159265,-3.14159265],"zero":false,"nice":false}},"theta2":{"field":"a1"},"radius":{"field":"r1","type":"quantitative","scale":{"type":"linear","domain":[0,39],"range":[0,130],"zero":true,"nice":false}},"radius2":{"field":"r0"},
   "color":{"field":"v","type":"quantitative","legend":null,"scale":{"type":"linear","nice":false,"zero":false,"clamp":true,"interpolate":"rgb","domain":[-1100,-950,-800,-660,-550,-420,-300,-150,0,130,350,480,600,690,850,1100],"range":["#2b0030","#1a0a70","#101090","#0000ff","#0070ff","#00eeff","#70ffff","#c8ffff","#ffffff","#ffffb0","#ffff00","#ffa000","#ff3000","#ff0000","#ff0070","#ff00ff"]}},
   "stroke":{"field":"v","type":"quantitative","legend":null,"scale":{"type":"linear","nice":false,"zero":false,"clamp":true,"interpolate":"rgb","domain":[-1100,-950,-800,-660,-550,-420,-300,-150,0,130,350,480,600,690,850,1100],"range":["#2b0030","#1a0a70","#101090","#0000ff","#0070ff","#00eeff","#70ffff","#c8ffff","#ffffff","#ffffb0","#ffff00","#ffa000","#ff3000","#ff0000","#ff0070","#ff00ff"]}}}},
  {"data":{"name":"IE"},"mark":{"type":"arc","strokeWidth":0.8,"x":496,"y":140},"encoding":{"theta":{"field":"a0","type":"quantitative","scale":{"type":"linear","domain":[0,360],"range":[3.14159265,-3.14159265],"zero":false,"nice":false}},"theta2":{"field":"a1"},"radius":{"field":"r1","type":"quantitative","scale":{"type":"linear","domain":[0,39],"range":[0,130],"zero":true,"nice":false}},"radius2":{"field":"r0"},
   "color":{"field":"v","type":"quantitative","legend":null,"scale":{"type":"linear","nice":false,"zero":false,"clamp":true,"interpolate":"rgb","domain":[-55,-47.5,-40,-33,-27.5,-21,-15,-7.5,0,6.5,17.5,24,30,34.5,42.5,55],"range":["#2b0030","#1a0a70","#101090","#0000ff","#0070ff","#00eeff","#70ffff","#c8ffff","#ffffff","#ffffb0","#ffff00","#ffa000","#ff3000","#ff0000","#ff0070","#ff00ff"]}},
   "stroke":{"field":"v","type":"quantitative","legend":null,"scale":{"type":"linear","nice":false,"zero":false,"clamp":true,"interpolate":"rgb","domain":[-55,-47.5,-40,-33,-27.5,-21,-15,-7.5,0,6.5,17.5,24,30,34.5,42.5,55],"range":["#2b0030","#1a0a70","#101090","#0000ff","#0070ff","#00eeff","#70ffff","#c8ffff","#ffffff","#ffffb0","#ffff00","#ffa000","#ff3000","#ff0000","#ff0070","#ff00ff"]}}}},
  {"data":{"name":"IV"},"mark":{"type":"arc","strokeWidth":0.8,"x":842,"y":140},"encoding":{"theta":{"field":"a0","type":"quantitative","scale":{"type":"linear","domain":[0,360],"range":[3.14159265,-3.14159265],"zero":false,"nice":false}},"theta2":{"field":"a1"},"radius":{"field":"r1","type":"quantitative","scale":{"type":"linear","domain":[0,39],"range":[0,130],"zero":true,"nice":false}},"radius2":{"field":"r0"},
   "color":{"field":"v","type":"quantitative","legend":null,"scale":{"type":"linear","nice":false,"zero":false,"clamp":true,"interpolate":"rgb","domain":[-1100,-950,-800,-660,-550,-420,-300,-150,0,130,350,480,600,690,850,1100],"range":["#2b0030","#1a0a70","#101090","#0000ff","#0070ff","#00eeff","#70ffff","#c8ffff","#ffffff","#ffffb0","#ffff00","#ffa000","#ff3000","#ff0000","#ff0070","#ff00ff"]}},
   "stroke":{"field":"v","type":"quantitative","legend":null,"scale":{"type":"linear","nice":false,"zero":false,"clamp":true,"interpolate":"rgb","domain":[-1100,-950,-800,-660,-550,-420,-300,-150,0,130,350,480,600,690,850,1100],"range":["#2b0030","#1a0a70","#101090","#0000ff","#0070ff","#00eeff","#70ffff","#c8ffff","#ffffff","#ffffb0","#ffff00","#ffa000","#ff3000","#ff0000","#ff0070","#ff00ff"]}}}},
  {"data":{"name":"gridNE"},"mark":{"type":"arc","x":150,"y":140,"filled":false,"stroke":"#2a2a2a","strokeOpacity":0.45,"strokeWidth":0.9},"encoding":{"theta":{"field":"a0","type":"quantitative","scale":{"type":"linear","domain":[0,360],"range":[3.14159265,-3.14159265],"zero":false,"nice":false}},"theta2":{"field":"a1"},"radius":{"field":"r1","type":"quantitative","scale":{"type":"linear","domain":[0,39],"range":[0,130],"zero":true,"nice":false}},"radius2":{"field":"r0"}}},
  {"data":{"name":"gridNE"},"mark":{"type":"arc","x":496,"y":140,"filled":false,"stroke":"#2a2a2a","strokeOpacity":0.45,"strokeWidth":0.9},"encoding":{"theta":{"field":"a0","type":"quantitative","scale":{"type":"linear","domain":[0,360],"range":[3.14159265,-3.14159265],"zero":false,"nice":false}},"theta2":{"field":"a1"},"radius":{"field":"r1","type":"quantitative","scale":{"type":"linear","domain":[0,39],"range":[0,130],"zero":true,"nice":false}},"radius2":{"field":"r0"}}},
  {"data":{"name":"gridV"},"mark":{"type":"arc","x":842,"y":140,"filled":false,"stroke":"#2a2a2a","strokeOpacity":0.45,"strokeWidth":0.9},"encoding":{"theta":{"field":"a0","type":"quantitative","scale":{"type":"linear","domain":[0,360],"range":[3.14159265,-3.14159265],"zero":false,"nice":false}},"theta2":{"field":"a1"},"radius":{"field":"r1","type":"quantitative","scale":{"type":"linear","domain":[0,39],"range":[0,130],"zero":true,"nice":false}},"radius2":{"field":"r0"}}},
  {"data":{"name":"outer"},"mark":{"type":"arc","x":150,"y":140,"filled":false,"stroke":"#111","strokeWidth":2.8},"encoding":{"theta":{"field":"a0","type":"quantitative","scale":{"type":"linear","domain":[0,360],"range":[3.14159265,-3.14159265],"zero":false,"nice":false}},"theta2":{"field":"a1"},"radius":{"field":"r1","type":"quantitative","scale":{"type":"linear","domain":[0,39],"range":[0,130],"zero":true,"nice":false}},"radius2":{"field":"r0"}}},
  {"data":{"name":"outer"},"mark":{"type":"arc","x":496,"y":140,"filled":false,"stroke":"#111","strokeWidth":2.8},"encoding":{"theta":{"field":"a0","type":"quantitative","scale":{"type":"linear","domain":[0,360],"range":[3.14159265,-3.14159265],"zero":false,"nice":false}},"theta2":{"field":"a1"},"radius":{"field":"r1","type":"quantitative","scale":{"type":"linear","domain":[0,39],"range":[0,130],"zero":true,"nice":false}},"radius2":{"field":"r0"}}},
  {"data":{"name":"outer"},"mark":{"type":"arc","x":842,"y":140,"filled":false,"stroke":"#111","strokeWidth":2.8},"encoding":{"theta":{"field":"a0","type":"quantitative","scale":{"type":"linear","domain":[0,360],"range":[3.14159265,-3.14159265],"zero":false,"nice":false}},"theta2":{"field":"a1"},"radius":{"field":"r1","type":"quantitative","scale":{"type":"linear","domain":[0,39],"range":[0,130],"zero":true,"nice":false}},"radius2":{"field":"r0"}}},
  {"data":{"name":"labV"},"mark":{"type":"text","x":150,"y":140,"radius":139,"fontSize":15,"color":"#222"},"encoding":{"theta":{"field":"a","type":"quantitative","scale":{"type":"linear","domain":[0,360],"range":[3.14159265,-3.14159265],"zero":false,"nice":false}},"text":{"field":"t","type":"nominal"}}},
  {"data":{"name":"labH"},"mark":{"type":"text","x":150,"y":140,"radius":146,"fontSize":15,"color":"#222"},"encoding":{"theta":{"field":"a","type":"quantitative","scale":{"type":"linear","domain":[0,360],"range":[3.14159265,-3.14159265],"zero":false,"nice":false}},"text":{"field":"t","type":"nominal"}}},
  {"data":{"name":"labV"},"mark":{"type":"text","x":496,"y":140,"radius":139,"fontSize":15,"color":"#222"},"encoding":{"theta":{"field":"a","type":"quantitative","scale":{"type":"linear","domain":[0,360],"range":[3.14159265,-3.14159265],"zero":false,"nice":false}},"text":{"field":"t","type":"nominal"}}},
  {"data":{"name":"labH"},"mark":{"type":"text","x":496,"y":140,"radius":146,"fontSize":15,"color":"#222"},"encoding":{"theta":{"field":"a","type":"quantitative","scale":{"type":"linear","domain":[0,360],"range":[3.14159265,-3.14159265],"zero":false,"nice":false}},"text":{"field":"t","type":"nominal"}}},
  {"data":{"name":"labV"},"mark":{"type":"text","x":842,"y":140,"radius":139,"fontSize":15,"color":"#222"},"encoding":{"theta":{"field":"a","type":"quantitative","scale":{"type":"linear","domain":[0,360],"range":[3.14159265,-3.14159265],"zero":false,"nice":false}},"text":{"field":"t","type":"nominal"}}},
  {"data":{"name":"labH"},"mark":{"type":"text","x":842,"y":140,"radius":146,"fontSize":15,"color":"#222"},"encoding":{"theta":{"field":"a","type":"quantitative","scale":{"type":"linear","domain":[0,360],"range":[3.14159265,-3.14159265],"zero":false,"nice":false}},"text":{"field":"t","type":"nominal"}}},
  {"data":{"name":"tN"},"mark":{"type":"text","x":150,"y":312,"fontSize":30,"baseline":"alphabetic","align":"center","color":"#111"},"encoding":{"text":{"field":"t","type":"nominal"}}},
  {"data":{"name":"tE"},"mark":{"type":"text","x":496,"y":312,"fontSize":30,"baseline":"alphabetic","align":"center","color":"#111"},"encoding":{"text":{"field":"t","type":"nominal"}}},
  {"data":{"name":"tV"},"mark":{"type":"text","x":842,"y":312,"fontSize":30,"baseline":"alphabetic","align":"center","color":"#111"},"encoding":{"text":{"field":"t","type":"nominal"}}},
  {"data":{"name":"rowI"},"mark":{"type":"text","x":-21,"y":148,"angle":270,"align":"center","baseline":"alphabetic","fontSize":48,"fontWeight":"bold","color":"#1a1a1a"},"encoding":{"text":{"field":"t","type":"nominal"}}}
 ]}
]
}
